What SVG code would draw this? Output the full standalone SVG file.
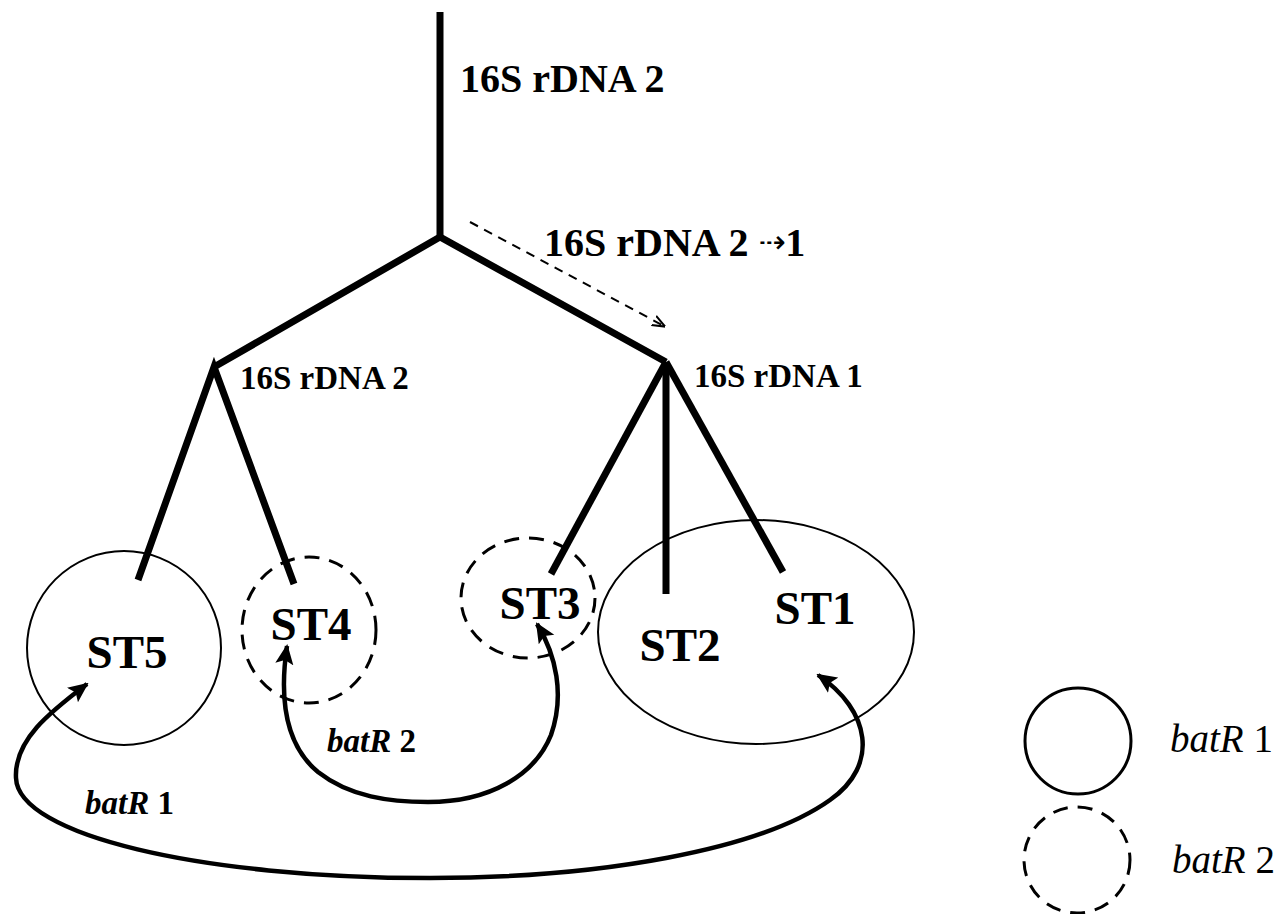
<svg xmlns="http://www.w3.org/2000/svg" width="1280" height="914" viewBox="0 0 1280 914">
<defs>
<style>
.br{stroke:#000;stroke-width:7;fill:none;stroke-linecap:butt;stroke-linejoin:miter}
.sol{stroke:#000;stroke-width:2;fill:none}
.dsh{stroke:#000;stroke-width:3;fill:none;stroke-dasharray:15 10}
.arc{stroke:#000;stroke-width:4.5;fill:none}
.lb{font-family:"Liberation Serif",serif;font-weight:bold;fill:#000}
.st{font-family:"Liberation Serif",serif;font-weight:bold;font-size:47px;fill:#000;text-anchor:middle}
.bi{font-family:"Liberation Serif",serif;font-weight:bold;font-style:italic;font-size:33px;fill:#000}
.lg{font-family:"Liberation Serif",serif;font-style:italic;font-size:39px;fill:#000}
</style>
<marker id="ah" viewBox="0 0 10 10" refX="9" refY="5" markerWidth="4.5" markerHeight="4.5" orient="auto-start-reverse" markerUnits="strokeWidth">
<path d="M0,0.5 L10,5 L0,9.5 L2,5 Z" fill="#000"/>
</marker>
<marker id="ahs" viewBox="0 0 10 10" refX="9" refY="5" markerWidth="13" markerHeight="13" orient="auto" markerUnits="userSpaceOnUse">
<path d="M0,1 L10,5 L0,9" fill="none" stroke="#000" stroke-width="1.6"/>
</marker>
</defs>

<g id="tree">
<line class="br" x1="440" y1="12" x2="440" y2="240"/>
<polyline class="br" points="214,367 440,237 666,362"/>
<polyline class="br" points="138,580 214,367 294,584"/>
<line class="br" x1="666" y1="362" x2="551" y2="574"/>
<line class="br" x1="666" y1="362" x2="666" y2="594"/>
<line class="br" x1="666" y1="362" x2="783" y2="572"/>
</g>

<g id="tree-labels">
<text class="lb" x="460" y="92" font-size="40">16S rDNA 2</text>
<text class="lb" x="544" y="256" font-size="40">16S rDNA 2 <tspan font-family="DejaVu Sans" font-size="32" font-weight="normal" dy="-3">⇢</tspan><tspan dy="3">1</tspan></text>
<text class="lb" x="240" y="389" font-size="33">16S rDNA 2</text>
<text class="lb" x="694" y="387" font-size="33">16S rDNA 1</text>
</g>

<g id="node-ST5">
<circle class="sol" cx="124" cy="648" r="97"/>
<text class="st" x="127" y="668">ST5</text>
</g>
<g id="node-ST4">
<ellipse class="dsh" cx="309" cy="630" rx="67" ry="73"/>
<text class="st" x="311" y="640">ST4</text>
</g>
<g id="node-ST3">
<ellipse class="dsh" cx="528" cy="598" rx="67" ry="60"/>
<text class="st" x="540" y="619">ST3</text>
</g>
<g id="node-ST1-ST2">
<ellipse class="sol" cx="756" cy="632" rx="158" ry="112"/>
<text class="st" x="680" y="661">ST2</text>
<text class="st" x="815" y="624">ST1</text>
</g>

<g id="connectors">
<line x1="470" y1="222" x2="664" y2="326" stroke="#000" stroke-width="2" stroke-dasharray="9 7" marker-end="url(#ahs)"/>
<path class="arc" d="M287,646 C279,700 285,745 318,772 C350,797 390,802 428,802 C490,802 535,775 551,735 C565,695 556,655 537,624" marker-start="url(#ah)" marker-end="url(#ah)"/>
<path class="arc" d="M87,684 C50,712 14,740 16,778 C18,835 200,878 430,878 C600,878 760,850 830,800 C880,765 870,710 818,675" marker-start="url(#ah)" marker-end="url(#ah)"/>
</g>

<g id="arc-labels">
<text class="bi" x="327" y="752">batR <tspan font-style="normal">2</tspan></text>
<text class="bi" x="85" y="814">batR <tspan font-style="normal">1</tspan></text>
</g>

<g id="legend">
<circle cx="1078" cy="741" r="53" fill="none" stroke="#000" stroke-width="3"/>
<circle class="dsh" cx="1077" cy="860" r="53"/>
<text class="lg" x="1170" y="752">batR <tspan font-style="normal">1</tspan></text>
<text class="lg" x="1172" y="873">batR <tspan font-style="normal">2</tspan></text>
</g>
</svg>
